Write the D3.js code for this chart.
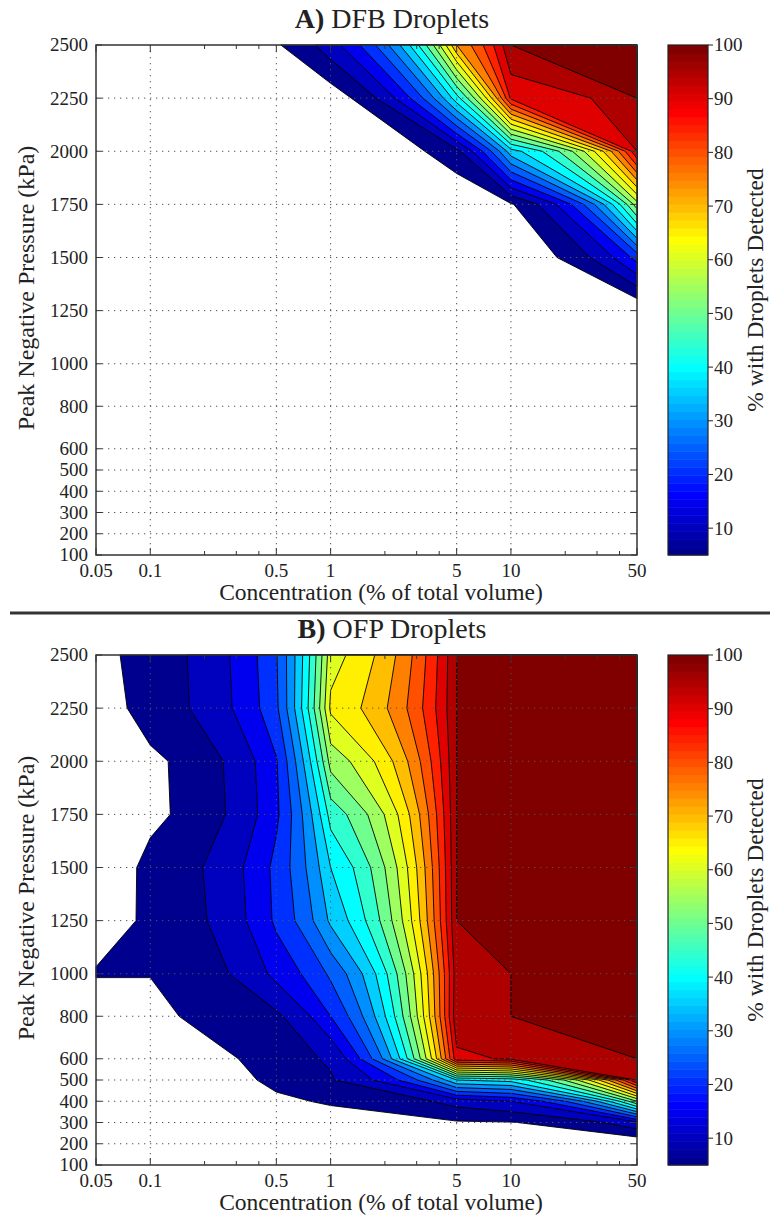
<!DOCTYPE html>
<html>
<head>
<meta charset="utf-8">
<script src="https://cdnjs.cloudflare.com/ajax/libs/d3/7.8.5/d3.min.js"></script>
<style>
body { margin: 0; background: #fff; }
text { font-family: "Liberation Serif", "Times New Roman", serif; fill: #222; }
</style>
</head>
<body>
<svg id="fig" width="770" height="1217"></svg>
<script>
// grid nodes (columns = concentration, rows = peak negative pressure, top row first)
var conc = [0.05, 0.1, 0.5, 1, 5, 10, 50];
var pressure = [2500, 2250, 2000, 1750, 1500, 1250, 1000, 800, 600, 500, 400, 300, 200, 100];

// % with droplets detected, DFB
var dfb = [
  [1, 2, 4.5, 13, 75, 100, 100],
  [0.5, 1, 1.5, 1.9, 43, 91, 100],
  [0, 0, 0, 0, 8.6, 38, 95],
  [0, 0, 0, 0, 0, 4.5, 58],
  [0, 0, 0, 0, 0, 0.75, 22],
  [0, 0, 0, 0, 0, 0, 0],
  [0, 0, 0, 0, 0, 0, 0],
  [0, 0, 0, 0, 0, 0, 0],
  [0, 0, 0, 0, 0, 0, 0],
  [0, 0, 0, 0, 0, 0, 0],
  [0, 0, 0, 0, 0, 0, 0],
  [0, 0, 0, 0, 0, 0, 0],
  [0, 0, 0, 0, 0, 0, 0],
  [0, 0, 0, 0, 0, 0, 0]
];

// % with droplets detected, OFP
var ofp = [
  [3.65, 7.4, 24.7, 63, 100, 100, 100],
  [2.8, 7.3, 24, 66, 100, 100, 100],
  [2.5, 4, 19.6, 57, 100, 100, 100],
  [2, 3.9, 19, 47, 100, 100, 100],
  [2, 6.4, 21.5, 40, 100, 100, 100],
  [3, 6, 21, 36, 100, 100, 100],
  [5.3, 5.05, 16.5, 26, 98, 100, 100],
  [2, 4.5, 9, 20, 99, 100, 100],
  [1, 1, 8.7, 10.5, 93.5, 96, 100],
  [0.5, 0.5, 6.7, 9.6, 40, 42, 96],
  [0, 0.2, 3.7, 6.1, 12, 15, 55],
  [0, 0, 1, 0.6, 4.5, 4.8, 14],
  [0, 0, 0, 0, 1, 1, 0.8],
  [0, 0, 0, 0, 0, 0, 0]
];

var levels = d3.range(5, 101, 5);
var xTicks = [0.05, 0.1, 0.5, 1, 5, 10, 50];
var xGrid = [0.1, 0.5, 1, 5, 10];
var xMinor = [0.2, 0.3, 0.4, 2, 3, 4, 20, 30, 40];
var yTicks = [100, 200, 300, 400, 500, 600, 800, 1000, 1250, 1500, 1750, 2000, 2250, 2500];
var cbTicks = [10, 20, 30, 40, 50, 60, 70, 80, 90, 100];

// matlab style jet(m)
function jet(m) {
  var n = Math.ceil(m / 4), u = [], i;
  for (i = 1; i <= n; i++) u.push(i / n);
  for (i = 1; i < n; i++) u.push(1);
  for (i = n; i >= 1; i--) u.push(i / n);
  var g0 = Math.ceil(n / 2) - (m % 4 == 1 ? 1 : 0);
  var cols = d3.range(m).map(function() { return [0, 0, 0]; });
  u.forEach(function(v, k) {
    var g = g0 + k + 1, r = g + n, b = g - n;
    if (r >= 1 && r <= m) cols[r - 1][0] = v;
    if (g >= 1 && g <= m) cols[g - 1][1] = v;
    if (b >= 1 && b <= m) cols[b - 1][2] = v;
  });
  return cols.map(function(c) { return d3.rgb(c[0] * 255, c[1] * 255, c[2] * 255).toString(); });
}
var cmap = jet(64);
var cmin = 5, cmax = 100;
function colorOf(v) {
  return cmap[Math.max(0, Math.min(63, Math.floor((v - cmin) / (cmax - cmin) * 64)))];
}

var svg = d3.select("#fig");
var X0 = 96, X1 = 637, PH = 510;
var x = d3.scaleLog().domain([0.05, 50]).range([X0, X1]);

function panel(data, top, letter, rest) {
  var g = svg.append("g");
  var y = d3.scaleLinear().domain([100, 2500]).range([top + PH, top]);

  // contour grid index -> data value, linear inside each cell
  var ci = d3.scaleLinear().domain(conc.map(function(d, i) { return i + 0.5; })).range(conc).clamp(true);
  var pi = d3.scaleLinear().domain(pressure.map(function(d, i) { return i + 0.5; })).range(pressure).clamp(true);
  var proj = d3.geoTransform({point: function(px, py) { this.stream.point(x(ci(px)), y(pi(py))); }});
  var path = d3.geoPath(proj);

  var cs = d3.contours().size([conc.length, pressure.length]).thresholds(levels)(d3.merge(data));
  g.append("g").selectAll("path").data(cs).enter().append("path")
    .attr("d", path)
    .attr("fill", function(d) { return colorOf(d.value); })
    .attr("stroke", "#000")
    .attr("stroke-width", 0.9)
    .attr("stroke-linejoin", "round");

  // dotted grid
  g.append("g").selectAll("line").data(yTicks.slice(1, -1)).enter().append("line")
    .attr("x1", X0).attr("x2", X1)
    .attr("y1", function(d) { return y(d); }).attr("y2", function(d) { return y(d); })
    .style("stroke", "#555").style("stroke-width", 1).style("stroke-dasharray", "1.3,4.7");
  g.append("g").selectAll("line").data(xGrid).enter().append("line")
    .attr("x1", function(d) { return x(d); }).attr("x2", function(d) { return x(d); })
    .attr("y1", top).attr("y2", top + PH)
    .style("stroke", "#555").style("stroke-width", 1).style("stroke-dasharray", "1.3,4.7");

  // ticks (inside, all four sides)
  var tk = g.append("g").style("stroke", "#333").style("stroke-width", 1);
  yTicks.forEach(function(d) {
    tk.append("line").attr("x1", X0).attr("x2", X0 + 6).attr("y1", y(d)).attr("y2", y(d));
    tk.append("line").attr("x1", X1).attr("x2", X1 - 6).attr("y1", y(d)).attr("y2", y(d));
  });
  xTicks.forEach(function(d) {
    tk.append("line").attr("x1", x(d)).attr("x2", x(d)).attr("y1", top + PH).attr("y2", top + PH - 7);
    tk.append("line").attr("x1", x(d)).attr("x2", x(d)).attr("y1", top).attr("y2", top + 7);
  });
  xMinor.forEach(function(d) {
    tk.append("line").attr("x1", x(d)).attr("x2", x(d)).attr("y1", top + PH).attr("y2", top + PH - 4);
    tk.append("line").attr("x1", x(d)).attr("x2", x(d)).attr("y1", top).attr("y2", top + 4);
  });

  g.append("rect").attr("x", X0).attr("y", top).attr("width", X1 - X0).attr("height", PH)
    .attr("fill", "none").attr("stroke", "#333").attr("stroke-width", 1.5);

  // tick labels
  g.append("g").selectAll("text").data(yTicks).enter().append("text")
    .attr("x", X0 - 8).attr("y", function(d) { return y(d); }).attr("dy", "0.34em")
    .attr("text-anchor", "end").style("font-size", "19px").text(function(d) { return d; });
  g.append("g").selectAll("text").data(xTicks).enter().append("text")
    .attr("x", function(d) { return x(d); }).attr("y", top + PH + 22)
    .attr("text-anchor", "middle").style("font-size", "19px").text(function(d) { return d; });

  // axis titles
  g.append("text").attr("x", 381).attr("y", top + PH + 45).attr("text-anchor", "middle")
    .style("font-size", "23.5px").text("Concentration (% of total volume)");
  g.append("text").attr("transform", "translate(34," + (top + 243) + ") rotate(-90)")
    .attr("text-anchor", "middle").style("font-size", "24px").text("Peak Negative Pressure (kPa)");
  var t = g.append("text").attr("x", 392).attr("y", top - 17).attr("text-anchor", "middle")
    .style("font-size", "28px");
  t.append("tspan").style("font-weight", "bold").text(letter);
  t.append("tspan").text(rest);

  // colorbar
  var cb = d3.scaleLinear().domain([cmin, cmax]).range([top + PH, top]);
  var step = (cmax - cmin) / 64;
  g.append("g").selectAll("rect").data(d3.range(64)).enter().append("rect")
    .attr("x", 668).attr("width", 40)
    .attr("y", function(i) { return cb(cmin + (i + 1) * step); })
    .attr("height", function(i) { return cb(cmin + i * step) - cb(cmin + (i + 1) * step) + 0.5; })
    .attr("fill", function(i) { return cmap[i]; });
  g.append("rect").attr("x", 668).attr("y", top).attr("width", 40).attr("height", PH)
    .attr("fill", "none").attr("stroke", "#222").attr("stroke-width", 1.2);
  g.append("g").selectAll("line").data(cbTicks).enter().append("line")
    .attr("x1", 708).attr("x2", 713).attr("y1", function(d) { return cb(d); }).attr("y2", function(d) { return cb(d); })
    .style("stroke", "#222");
  g.append("g").selectAll("text").data(cbTicks).enter().append("text")
    .attr("x", 714).attr("y", function(d) { return cb(d); }).attr("dy", "0.34em")
    .style("font-size", "19px").text(function(d) { return d; });
  g.append("text").attr("transform", "translate(763," + (top + 245) + ") rotate(-90)")
    .attr("text-anchor", "middle").style("font-size", "23.5px").text("% with Droplets Detected");
}

panel(dfb, 45, "A)", " DFB Droplets");
panel(ofp, 655, "B)", " OFP Droplets");

// separator between panels
svg.append("line").attr("x1", 10).attr("x2", 770).attr("y1", 613).attr("y2", 613)
  .style("stroke", "#333").style("stroke-width", 3);
</script>
</body>
</html>
